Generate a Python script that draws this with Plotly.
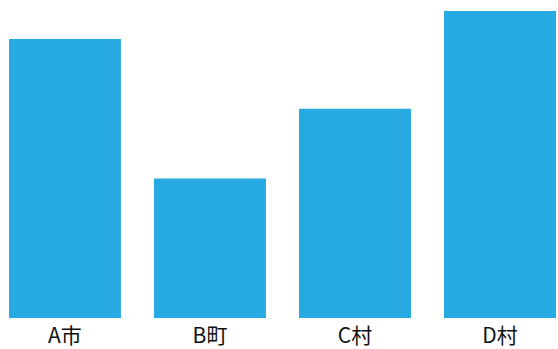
import plotly.graph_objects as go

categories = ["A市", "B町", "C村", "D村"]
values = [80, 40, 60, 88]

fig = go.Figure(go.Bar(x=categories, y=values, marker_color="#27A9E1", marker_line_width=0))
fig.update_layout(
    width=558, height=349,
    margin=dict(l=0, r=0, t=0, b=31, autoexpand=False),
    paper_bgcolor="white", plot_bgcolor="white",
    bargap=0.228,
    showlegend=False,
    font=dict(family="Noto Sans CJK JP", size=21, color="#111111"),
)
fig.update_xaxes(range=[-0.448, 3.400], showgrid=False, showline=False, zeroline=False, ticks="",
                 tickfont=dict(size=21), ticklabelstandoff=3, automargin=False)
fig.update_yaxes(range=[0, 91.18], visible=False, automargin=False)
fig.write_html("out.html")
